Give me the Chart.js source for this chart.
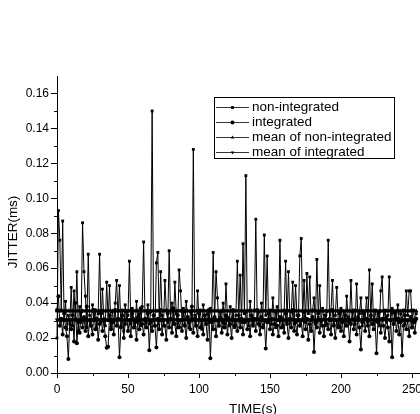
<!DOCTYPE html>
<html>
<head>
<meta charset="utf-8">
<script src="https://cdn.jsdelivr.net/npm/chart.js@4.4.1/dist/chart.umd.min.js"></script>
<style>
  html, body { margin: 0; padding: 0; background: #fff; overflow: hidden; }
  #wrap { width: 420px; height: 414px; overflow: hidden; }
</style>
</head>
<body>
<div id="wrap"><canvas id="chart" width="460" height="414"></canvas></div>
<script>
// jitter samples, one per second (ms)
const nonIntegrated = [
    0.020, 0.093, 0.076, 0.036, 0.087, 0.030, 0.041, 0.025, 0.033, 0.028,
    0.049, 0.027, 0.047, 0.031, 0.058, 0.024, 0.038, 0.029, 0.086, 0.058,
    0.044, 0.026, 0.068, 0.033, 0.027, 0.039, 0.030, 0.036, 0.025, 0.034,
    0.068, 0.029, 0.048, 0.031, 0.027, 0.052, 0.030, 0.050, 0.026, 0.035,
    0.029, 0.040, 0.053, 0.031, 0.050, 0.027, 0.036, 0.024, 0.039, 0.030,
    0.033, 0.064, 0.028, 0.037, 0.031, 0.026, 0.041, 0.029, 0.034, 0.027,
    0.038, 0.075, 0.030, 0.026, 0.039, 0.028, 0.035, 0.150, 0.031, 0.027,
    0.063, 0.069, 0.030, 0.058, 0.033, 0.027, 0.053, 0.036, 0.029, 0.070,
    0.031, 0.040, 0.028, 0.052, 0.034, 0.026, 0.059, 0.047, 0.030, 0.037,
    0.028, 0.041, 0.032, 0.026, 0.035, 0.030, 0.128, 0.033, 0.027, 0.047,
    0.030, 0.036, 0.025, 0.039, 0.031, 0.028, 0.034, 0.029, 0.037, 0.031,
    0.069, 0.030, 0.058, 0.043, 0.027, 0.035, 0.031, 0.040, 0.028, 0.051,
    0.032, 0.027, 0.038, 0.030, 0.035, 0.026, 0.033, 0.064, 0.031, 0.056,
    0.029, 0.074, 0.034, 0.113, 0.030, 0.027, 0.041, 0.032, 0.028, 0.036,
    0.088, 0.031, 0.035, 0.027, 0.040, 0.030, 0.079, 0.033, 0.067, 0.029,
    0.036, 0.028, 0.043, 0.031, 0.026, 0.038, 0.030, 0.076, 0.032, 0.027,
    0.036, 0.064, 0.029, 0.058, 0.031, 0.035, 0.052, 0.028, 0.050, 0.033,
    0.030, 0.067, 0.077, 0.031, 0.053, 0.029, 0.057, 0.034, 0.055, 0.030,
    0.036, 0.043, 0.028, 0.065, 0.032, 0.050, 0.029, 0.037, 0.031, 0.027,
    0.035, 0.076, 0.030, 0.036, 0.053, 0.028, 0.033, 0.049, 0.030, 0.026,
    0.037, 0.031, 0.035, 0.027, 0.044, 0.032, 0.029, 0.053, 0.031, 0.036,
    0.028, 0.051, 0.030, 0.034, 0.043, 0.027, 0.035, 0.031, 0.043, 0.029,
    0.059, 0.032, 0.051, 0.028, 0.036, 0.030, 0.034, 0.027, 0.047, 0.055,
    0.031, 0.036, 0.029, 0.033, 0.055, 0.030, 0.037, 0.028, 0.035, 0.031,
    0.039, 0.029, 0.034, 0.030, 0.036, 0.028, 0.047, 0.033, 0.047, 0.047,
    0.031, 0.036, 0.029, 0.034
];

const integrated = [
    0.036, 0.044, 0.027, 0.031, 0.022, 0.034, 0.026, 0.021, 0.008, 0.030,
    0.025, 0.033, 0.018, 0.040, 0.017, 0.029, 0.023, 0.035, 0.026, 0.032,
    0.024, 0.038, 0.021, 0.030, 0.027, 0.022, 0.036, 0.025, 0.031, 0.019,
    0.028, 0.034, 0.024, 0.030, 0.021, 0.0145, 0.015, 0.033, 0.025, 0.029,
    0.022, 0.036, 0.027, 0.031, 0.009, 0.026, 0.033, 0.020, 0.028, 0.035,
    0.024, 0.030, 0.021, 0.034, 0.026, 0.029, 0.019, 0.032, 0.025, 0.037,
    0.028, 0.022, 0.031, 0.026, 0.034, 0.013, 0.029, 0.024, 0.033, 0.027,
    0.0146, 0.031, 0.025, 0.036, 0.022, 0.030, 0.027, 0.019, 0.034, 0.026,
    0.031, 0.023, 0.037, 0.028, 0.021, 0.033, 0.026, 0.030, 0.024, 0.035,
    0.027, 0.020, 0.032, 0.029, 0.025, 0.038, 0.023, 0.031, 0.027, 0.021,
    0.034, 0.026, 0.030, 0.022, 0.033, 0.028, 0.019, 0.036, 0.0084, 0.029,
    0.025, 0.032, 0.021, 0.030, 0.027, 0.035, 0.023, 0.029, 0.026, 0.033,
    0.022, 0.031, 0.028, 0.020, 0.036, 0.027, 0.030, 0.024, 0.033, 0.026,
    0.031, 0.022, 0.029, 0.035, 0.025, 0.030, 0.021, 0.033, 0.027, 0.031,
    0.024, 0.036, 0.028, 0.022, 0.032, 0.026, 0.030, 0.014, 0.029, 0.034,
    0.025, 0.031, 0.022, 0.028, 0.035, 0.027, 0.021, 0.032, 0.026, 0.030,
    0.023, 0.034, 0.028, 0.020, 0.031, 0.026, 0.036, 0.024, 0.029, 0.022,
    0.033, 0.027, 0.030, 0.021, 0.035, 0.025, 0.031, 0.019, 0.028, 0.024,
    0.032, 0.012, 0.029, 0.026, 0.034, 0.023, 0.030, 0.027, 0.021, 0.033,
    0.028, 0.025, 0.031, 0.022, 0.036, 0.027, 0.020, 0.030, 0.026, 0.034,
    0.024, 0.029, 0.021, 0.033, 0.027, 0.031, 0.018, 0.028, 0.035, 0.025,
    0.030, 0.022, 0.032, 0.026, 0.0135, 0.029, 0.034, 0.024, 0.031, 0.027,
    0.021, 0.033, 0.028, 0.025, 0.030, 0.0113, 0.029, 0.035, 0.023, 0.031,
    0.027, 0.020, 0.032, 0.026, 0.018, 0.030, 0.009, 0.028, 0.034, 0.024,
    0.031, 0.022, 0.029, 0.010, 0.027, 0.033, 0.025, 0.030, 0.021, 0.032,
    0.026, 0.029, 0.023, 0.031
];

const meanNonIntegrated = 0.0355;
const meanIntegrated = 0.0305;

const seriesNames = ['non-integrated', 'integrated', 'mean of non-integrated', 'mean of integrated'];
const xTicks = [0, 50, 100, 150, 200, 250];
const xMinorTicks = [25, 75, 125, 175, 225];
const yTicks = [0, 0.02, 0.04, 0.06, 0.08, 0.10, 0.12, 0.14, 0.16];
const yMinorTicks = [0.01, 0.03, 0.05, 0.07, 0.09, 0.11, 0.13, 0.15];

const FONT = "'Liberation Sans', Arial, sans-serif";

const toPoints = arr => arr.map((v, i) => ({ x: i, y: v }));
const flat = (arr, m) => arr.map((v, i) => ({ x: i, y: m }));

function makeSet(label, data, style, rot, r) {
    return {
        label: label,
        data: data,
        borderColor: '#000',
        backgroundColor: '#000',
        borderWidth: 1,
        pointStyle: style,
        pointRotation: rot,
        pointRadius: r,
        pointBorderWidth: 0,
        tension: 0
    };
}

// minor ticks + axis titles
const extras = {
    id: 'extras',
    afterDraw(chart) {
        const ctx = chart.ctx;
        const xs = chart.scales.x, ys = chart.scales.y;
        const area = chart.chartArea;
        ctx.save();
        ctx.strokeStyle = '#000';
        ctx.lineWidth = 1;
        ctx.beginPath();
        xMinorTicks.forEach(v => {
            const px = Math.round(xs.getPixelForValue(v)) + 0.5;
            ctx.moveTo(px, area.bottom);
            ctx.lineTo(px, area.bottom + 3);
        });
        yMinorTicks.forEach(v => {
            const py = Math.round(ys.getPixelForValue(v)) + 0.5;
            ctx.moveTo(area.left, py);
            ctx.lineTo(area.left - 3, py);
        });
        ctx.stroke();

        ctx.fillStyle = '#000';
        ctx.font = '13.5px ' + FONT;
        ctx.textAlign = 'center';
        ctx.textBaseline = 'top';
        ctx.fillText('TIME(s)', 253, 403);

        ctx.translate(13, 232);
        ctx.rotate(-Math.PI / 2);
        ctx.textBaseline = 'middle';
        ctx.fillText('JITTER(ms)', 0, 0);
        ctx.restore();
    }
};

// boxed legend inside the plot
const boxLegend = {
    id: 'boxLegend',
    afterDatasetsDraw(chart) {
        const ctx = chart.ctx;
        ctx.save();
        ctx.fillStyle = '#fff';
        ctx.fillRect(214.5, 97.5, 180, 61);
        ctx.strokeStyle = '#000';
        ctx.lineWidth = 1;
        ctx.strokeRect(214.5, 97.5, 180, 61);
        ctx.font = '13.5px ' + FONT;
        ctx.textAlign = 'left';
        ctx.textBaseline = 'middle';
        chart.data.datasets.forEach((ds, i) => {
            const y = 107.5 + i * 15;
            ctx.beginPath();
            ctx.moveTo(216, y);
            ctx.lineTo(249, y);
            ctx.strokeStyle = '#333';
            ctx.stroke();
            ctx.fillStyle = '#000';
            Chart.helpers.drawPoint(ctx, {
                pointStyle: ds.pointStyle,
                rotation: ds.pointRotation,
                radius: 2,
                borderWidth: 0
            }, 232.5, y);
            ctx.fillStyle = '#000';
            ctx.fillText(ds.label, 252, y - 0.5);
        });
        ctx.restore();
    }
};

document.addEventListener('DOMContentLoaded', () => {
    const ctx = document.getElementById('chart').getContext('2d');

    new Chart(ctx, {
        type: 'line',
        data: {
            datasets: [
                makeSet(seriesNames[0], toPoints(nonIntegrated), 'rect', 0, 2),
                makeSet(seriesNames[1], toPoints(integrated), 'circle', 0, 2),
                makeSet(seriesNames[2], flat(nonIntegrated, meanNonIntegrated), 'triangle', 0, 2.5),
                makeSet(seriesNames[3], flat(integrated, meanIntegrated), 'triangle', 180, 2.5)
            ]
        },
        options: {
            responsive: false,
            animation: false,
            devicePixelRatio: 1,
            clip: false,
            layout: { padding: { top: 76, right: 12.5, bottom: 0, left: 0 } },
            plugins: {
                legend: { display: false },
                tooltip: { enabled: false }
            },
            scales: {
                x: {
                    type: 'linear',
                    min: 0,
                    max: 275,
                    afterBuildTicks: s => { s.ticks = xTicks.map(v => ({ value: v })); },
                    afterFit: s => { s.height = 41; },
                    grid: { drawOnChartArea: false, drawTicks: true, tickLength: 5, color: '#000' },
                    border: { display: true, color: '#000', width: 1 },
                    ticks: { color: '#000', font: { family: FONT, size: 12 }, padding: 4, maxRotation: 0 }
                },
                y: {
                    type: 'linear',
                    min: 0,
                    max: 0.17,
                    afterBuildTicks: s => { s.ticks = yTicks.map(v => ({ value: v })); },
                    afterFit: s => { s.width = 57; },
                    grid: { drawOnChartArea: false, drawTicks: true, tickLength: 6, color: '#000' },
                    border: { display: true, color: '#000', width: 1 },
                    ticks: {
                        color: '#000',
                        font: { family: FONT, size: 12 },
                        padding: 2,
                        callback: v => v.toFixed(2)
                    }
                }
            }
        },
        plugins: [extras, boxLegend]
    });
});
</script>
</body>
</html>
